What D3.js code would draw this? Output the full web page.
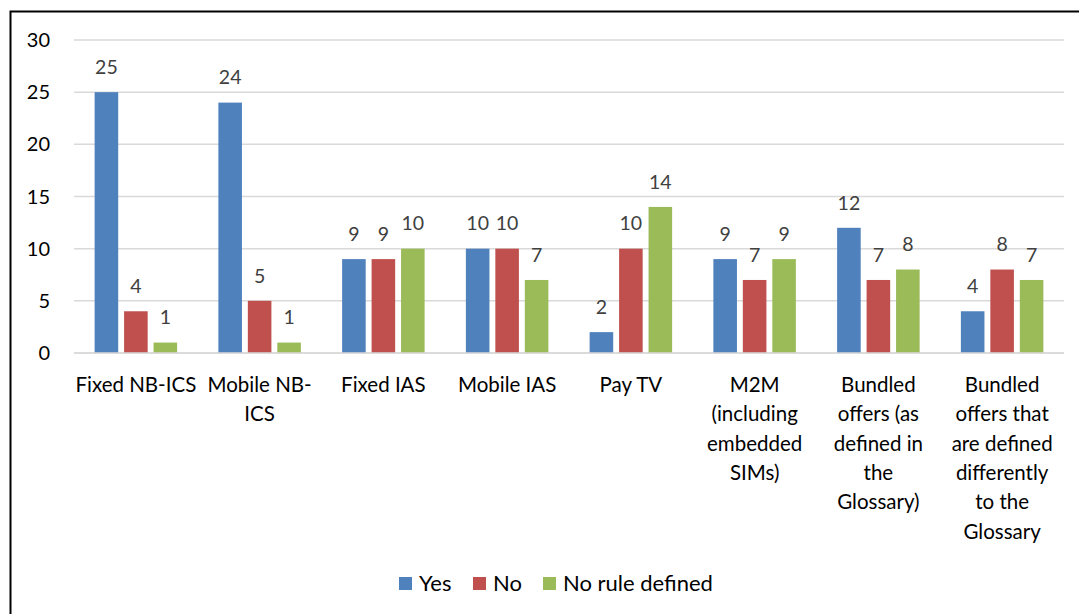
<!DOCTYPE html>
<html><head><meta charset="utf-8">
<script src="https://cdn.jsdelivr.net/npm/d3@7"></script>
<style>body{margin:0;background:#fff;} svg{display:block;font-family:Lato,"Open Sans",sans-serif;}</style>
</head><body>
<svg id="c" width="1079" height="614"></svg>
<script>
const categories = [
  ["Fixed NB-ICS"],
  ["Mobile NB-","ICS"],
  ["Fixed IAS"],
  ["Mobile IAS"],
  ["Pay TV"],
  ["M2M","(including","embedded","SIMs)"],
  ["Bundled","offers (as","defined in","the","Glossary)"],
  ["Bundled","offers that","are defined","differently","to the","Glossary"]
];
const seriesNames = ["Yes","No","No rule defined"];
const yes = [25,24,9,10,2,9,12,4];
const no = [4,5,9,10,10,7,7,8];
const noRule = [1,1,10,7,14,9,8,7];
const colors = ["#4F81BD","#C0504D","#9BBB59"];
const yTicks = [0,5,10,15,20,25,30];

(function(){
const series = [yes,no,noRule];
const svg = d3.select("#c");
svg.append("rect").attr("x",10.5).attr("y",11.5).attr("width",1100).attr("height",700)
  .attr("fill","none").attr("stroke","#000").attr("stroke-width",2);

const pL=74, pR=1064, pT=40, pB=353;
const x = d3.scaleBand().domain(d3.range(categories.length)).range([pL,pR]);
const y = d3.scaleLinear().domain([0,30]).range([pB,pT]);
const xs = d3.scaleBand().domain(d3.range(3)).range([0,82.5]).paddingInner(0.2);

svg.append("g").selectAll("line").data(yTicks).join("line")
  .attr("x1",pL).attr("x2",pR).attr("y1",d=>y(d)).attr("y2",d=>y(d))
  .attr("stroke","#D9D9D9").attr("stroke-width",1.5);

svg.append("g").selectAll("text").data(yTicks).join("text")
  .attr("x",50).attr("y",d=>y(d)).attr("dy","0.35em").attr("text-anchor","end")
  .attr("font-size",20).attr("fill","#000").text(d=>d);

const g = svg.append("g");
series.forEach((vals,si)=>{
  vals.forEach((v,ci)=>{
    const bx = x(ci)+x.bandwidth()/2-41.25+xs(si);
    g.append("rect").attr("x",bx).attr("y",y(v)).attr("width",xs.bandwidth())
      .attr("height",y(0)-y(v)).attr("fill",colors[si]);
    g.append("text").attr("x",bx+xs.bandwidth()/2).attr("y",y(v)-25).attr("dy","0.35em")
      .attr("text-anchor","middle").attr("font-size",19.5).attr("fill","#404040").text(v);
  });
});
svg.append("line").attr("x1",pL).attr("x2",pR).attr("y1",y(0)).attr("y2",y(0))
  .attr("stroke","#D9D9D9").attr("stroke-width",1.5);

const cl = svg.append("g");
categories.forEach((lines,ci)=>{
  const t = cl.append("text").attr("text-anchor","middle").attr("font-size",20.5).attr("fill","#000");
  lines.forEach((ln,li)=>{
    t.append("tspan").attr("x",x(ci)+x.bandwidth()/2).attr("y",385+li*29.3).attr("dy","0.35em").text(ln);
  });
});

const legX=[399,473,543];
seriesNames.forEach((n,i)=>{
  svg.append("rect").attr("x",legX[i]).attr("y",577).attr("width",13).attr("height",13).attr("fill",colors[i]);
  svg.append("text").attr("x",legX[i]+20).attr("y",583.5).attr("dy","0.35em").attr("font-size",22).attr("fill","#000").text(n);
});
})();
</script>
</body></html>
